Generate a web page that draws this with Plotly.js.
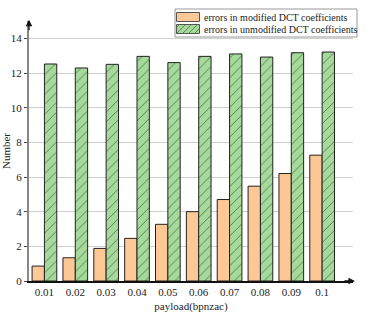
<!DOCTYPE html>
<html>
<head>
<meta charset="utf-8">
<script src="https://cdn.plot.ly/plotly-3.0.1.min.js"></script>
<style>html,body{margin:0;padding:0;background:#fff;}#chart{width:374px;height:316px;}</style>
</head>
<body>
<div id="chart"></div>
<script>
var categories = ['0.01','0.02','0.03','0.04','0.05','0.06','0.07','0.08','0.09','0.1'];
var modifiedErrors = [0.86, 1.34, 1.88, 2.46, 3.27, 4.0, 4.7, 5.47, 6.2, 7.26];
var unmodifiedErrors = [12.52, 12.29, 12.5, 12.96, 12.6, 12.96, 13.1, 12.92, 13.17, 13.21];
var seriesNames = ['errors in modified DCT coefficients', 'errors in unmodified DCT coefficients'];
var yTicks = [0, 2, 4, 6, 8, 10, 12, 14];

var font = 'Liberation Serif';
var orange = '#fdc896';
var green = '#a8d99c';
var hatch = '#3d7a3d';

var traces = [
  {
    type: 'bar', x: categories, y: modifiedErrors, name: seriesNames[0], showlegend: false,
    marker: {color: orange, line: {color: '#222', width: 1}}
  },
  {
    type: 'bar', x: categories, y: unmodifiedErrors, name: seriesNames[1], showlegend: false,
    marker: {color: green, line: {color: '#222', width: 1},
      pattern: {shape: '/', fgcolor: hatch, bgcolor: green, size: 7, solidity: 0.12}}
  }
];

// plot area geometry (pixels) for placing the legend box in paper coords
var L = 29, T = 21, W = 324, H = 260;
function PX(px) { return (px - L) / W; }
function PY(py) { return (T + H - py) / H; }

var shapes = [
  {type: 'rect', xref: 'paper', yref: 'paper', x0: PX(175), x1: PX(357), y0: PY(37), y1: PY(9),
   fillcolor: '#fff', line: {color: '#999', width: 1}, layer: 'above'},
  {type: 'rect', xref: 'paper', yref: 'paper', x0: PX(176.5), x1: PX(199.5), y0: PY(21.5), y1: PY(12.5),
   fillcolor: orange, line: {color: '#555', width: 1}, layer: 'above'},
  {type: 'rect', xref: 'paper', yref: 'paper', x0: PX(176.5), x1: PX(199.5), y0: PY(33.5), y1: PY(24.5),
   fillcolor: green, line: {color: '#555', width: 1}, layer: 'above'}
];
var hatchSegs = [[176.5,27.5,179.5,24.5],[176.5,33.5,185.5,24.5],[182.5,33.5,191.5,24.5],[188.5,33.5,197.5,24.5],[194.5,33.5,199.5,28.5]];
hatchSegs.forEach(function (s) {
  shapes.push({type: 'line', xref: 'paper', yref: 'paper', x0: PX(s[0]), y0: PY(s[1]), x1: PX(s[2]), y1: PY(s[3]),
    line: {color: hatch, width: 0.8}, layer: 'above'});
});

var annotations = [
  {xref: 'paper', yref: 'paper', x: 0, y: 1.005, ax: 0, ay: 12, axref: 'pixel', ayref: 'pixel',
   showarrow: true, arrowhead: 2, arrowsize: 1, arrowwidth: 1.3, arrowcolor: '#111', text: ''},
  {xref: 'paper', yref: 'paper', x: 1.006, y: 0, ax: -12, ay: 0, axref: 'pixel', ayref: 'pixel',
   showarrow: true, arrowhead: 2, arrowsize: 1, arrowwidth: 1.3, arrowcolor: '#111', text: ''},
  {xref: 'paper', yref: 'paper', x: PX(201.5), y: PY(17), xanchor: 'left', yanchor: 'middle',
   showarrow: false, text: seriesNames[0], font: {family: font, size: 10, color: '#222'}},
  {xref: 'paper', yref: 'paper', x: PX(201.5), y: PY(29.5), xanchor: 'left', yanchor: 'middle',
   showarrow: false, text: seriesNames[1], font: {family: font, size: 10, color: '#222'}}
];

var layout = {
  width: 374, height: 316,
  margin: {l: L, r: 374 - L - W, t: T, b: 316 - T - H},
  paper_bgcolor: '#fff', plot_bgcolor: '#fff',
  barmode: 'group', bargap: 0.2, bargroupgap: 0,
  font: {family: font, size: 11, color: '#222'},
  showlegend: false,
  xaxis: {
    type: 'category', range: [-0.5, 10],
    showline: true, linecolor: '#111', linewidth: 1.5,
    showgrid: false, ticks: '', zeroline: false,
    tickfont: {family: font, size: 11, color: '#222'},
    title: {text: 'payload(bpnzac)', font: {family: font, size: 11, color: '#222'}, standoff: 5}
  },
  yaxis: {
    range: [0, 15], tickvals: yTicks, ticktext: yTicks.map(String),
    showline: true, linecolor: '#888', linewidth: 2,
    ticks: 'outside', ticklen: 3, tickcolor: '#444', tickwidth: 1,
    showgrid: true, gridcolor: '#cfcfcf', gridwidth: 1, zeroline: false,
    tickfont: {family: font, size: 11, color: '#222'},
    title: {text: 'Number', font: {family: font, size: 11, color: '#222'}, standoff: 2}
  },
  shapes: shapes,
  annotations: annotations
};

Plotly.newPlot('chart', traces, layout, {displayModeBar: false, staticPlot: true});
</script>
</body>
</html>
